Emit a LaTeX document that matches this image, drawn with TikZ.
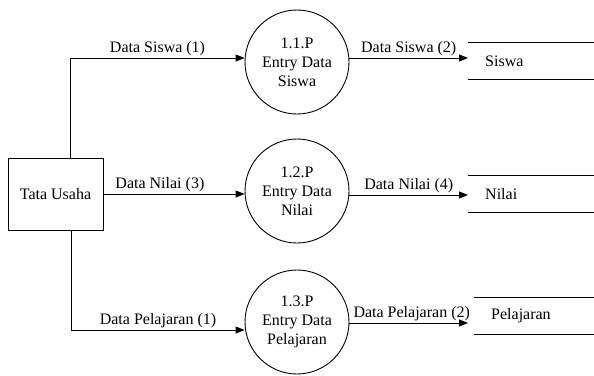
\documentclass[tikz,border=0pt]{standalone}
\usepackage{fontspec}
\setmainfont{Liberation Serif}
\usetikzlibrary{positioning,arrows.meta}
\tikzset{
   every path/.style={>={Triangle[length=9pt,width=7pt]}},
   ent/.style={draw,rectangle,minimum width=95pt,minimum height=72pt,line width=0.9pt},
   proc/.style={draw,circle,minimum size=104pt,align=center,inner sep=0pt,line width=0.9pt},
   store/.style={minimum height=37pt,text width=100pt,inner xsep=17pt,align=left,anchor=west},
   flow/.style={->,line width=0.9pt},
   lbl/.style={above,inner sep=1.5pt},
}

\begin{document}
\begin{tikzpicture}[x=1pt, y=-1pt, font=\fontsize{16}{19}\selectfont]
    \useasboundingbox (0,0) rectangle (594,375);

    \node[ent] (tu) at (55.5,194) {Tata Usaha};

    \node[proc] (p1) at (297,62)  {1.1.P\\Entry Data\\Siswa};
    \node[proc] (p2) at (297,191) {1.2.P\\Entry Data\\Nilai};
    \node[proc] (p3) at (297,322) {1.3.P\\Entry Data\\Pelajaran};

    \node[store] (ds1) at (468,61)  {Siswa};
    \node[store] (ds2) at (468,194) {Nilai};
    \node[store] (ds3) at (474,316) {Pelajaran};

    % open-ended data stores
    \foreach \d in {ds1,ds2,ds3}
        \draw[line width=0.9pt] (\d.north west) -- (\d.north east)
                                (\d.south west) -- (\d.south east);

    \draw[flow] ([xshift=15pt]tu.north) |- ([yshift=4pt]p1.west)
        node[lbl,pos=0.75] {Data Siswa (1)};
    \draw[flow] (tu.east) -- (tu.east -| p2.west)
        node[lbl,pos=0.4] {Data Nilai (3)};
    \draw[flow] ([xshift=16pt]tu.south) |- ([yshift=-8pt]p3.west)
        node[lbl,pos=0.75] {Data Pelajaran (1)};

    \draw[flow] ([yshift=4pt]p1.east) -- ([yshift=4pt]p1.east -| ds1.west)
        node[lbl,midway] {Data Siswa (2)};
    \draw[flow] ([yshift=-4pt]p2.east) -- ([yshift=-4pt]p2.east -| ds2.west)
        node[lbl,midway] {Data Nilai (4)};
    \draw[flow,shorten >=6pt] ([yshift=-1pt]p3.east) -- ([yshift=-1pt]p3.east -| ds3.west)
        node[lbl,midway] {Data Pelajaran (2)};

\end{tikzpicture}
\end{document}
